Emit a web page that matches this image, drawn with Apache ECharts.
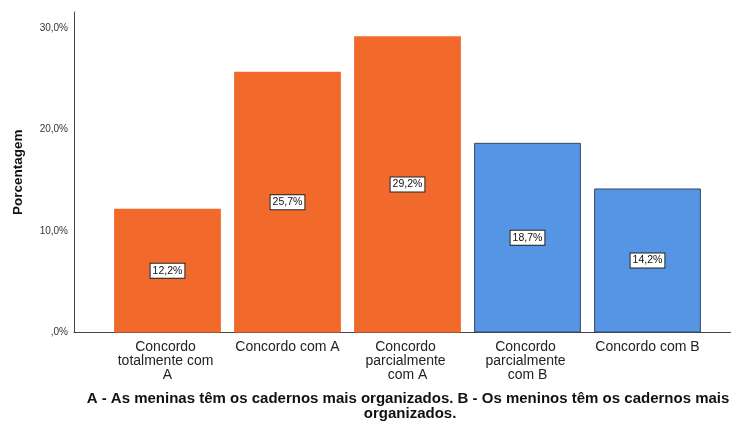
<!DOCTYPE html>
<html>
<head>
<meta charset="utf-8">
<script src="https://cdn.jsdelivr.net/npm/echarts@6/dist/echarts.min.js"></script>
<style>html,body{margin:0;padding:0;background:#fff}#c{width:731px;height:421px}</style>
</head>
<body>
<div id="c"></div>
<script>
const categories = ['Concordo totalmente com A', 'Concordo com A', 'Concordo parcialmente com A', 'Concordo parcialmente com B', 'Concordo com B'];
const values = [12.2, 25.7, 29.2, 18.7, 14.2];
const groups = ['A', 'A', 'A', 'B', 'B'];
const yTicks = [0, 10, 20, 30];
const yTitle = 'Porcentagem';
const xTitle = 'A - As meninas têm os cadernos mais organizados. B - Os meninos têm os cadernos mais organizados.';

const groupStyle = {
  A: { color: '#F26A2B', borderColor: '#F26A2B', borderWidth: 0 },
  B: { color: '#5595E4', borderColor: '#34496A', borderWidth: 1 }
};
const fmt = v => (v === 0 ? '' : String(Math.floor(v))) + ',' + (Math.round(v * 10) % 10) + '%';
const font = '"Liberation Sans", Arial, sans-serif';
const YMAX = 31.6;

const chart = echarts.init(document.getElementById('c'), null, { renderer: 'canvas' });
chart.setOption({
  animation: false,
  textStyle: { fontFamily: font },
  grid: [
    { left: 74, right: 0, top: 12, bottom: 88.5 },
    { left: 107.5, right: 23.5, top: 12, bottom: 88.5 }
  ],
  xAxis: [
    { gridIndex: 0, type: 'value', min: 0, max: 1, axisLine: { show: true, onZero: false, lineStyle: { color: '#444', width: 1 } },
      axisTick: { show: false }, axisLabel: { show: false }, splitLine: { show: false } },
    { gridIndex: 1, type: 'category', data: categories,
      axisLine: { show: false }, axisTick: { show: false },
      axisLabel: { interval: 0, color: '#222', fontSize: 14, lineHeight: 14, width: 107, overflow: 'break', margin: 8, fontFamily: font } }
  ],
  yAxis: [
    { gridIndex: 0, type: 'value', min: 0, max: YMAX, interval: 10,
      axisLine: { show: true, lineStyle: { color: '#444', width: 1 } }, axisTick: { show: false },
      splitLine: { show: false }, showMaxLabel: false,
      axisLabel: { color: '#333', fontSize: 10, margin: 6, fontFamily: font,
        formatter: v => yTicks.includes(v) ? fmt(v) : '' },
      name: yTitle, nameLocation: 'middle', nameGap: 49, nameRotate: 90,
      nameTextStyle: { fontWeight: 'bold', fontSize: 13.5, color: '#111', fontFamily: font } },
    { gridIndex: 1, type: 'value', min: 0, max: YMAX, show: false }
  ],
  title: {
    text: xTitle, left: 408, top: 391, textAlign: 'center', padding: 0,
    textStyle: { fontSize: 15, fontWeight: 'bold', color: '#111', width: 720, overflow: 'break', lineHeight: 15, fontFamily: font }
  },
  series: [{
    type: 'bar', xAxisIndex: 1, yAxisIndex: 1,
    barCategoryGap: '11%',
    data: values.map((v, i) => ({ value: v, itemStyle: groupStyle[groups[i]] })),
    label: {
      show: true, position: 'inside', formatter: p => fmt(p.value),
      backgroundColor: '#fff', borderColor: '#222', borderWidth: 1, padding: [2, 2, 1, 2],
      color: '#111', fontSize: 10.5, fontFamily: font
    }
  }]
});
</script>
</body>
</html>
